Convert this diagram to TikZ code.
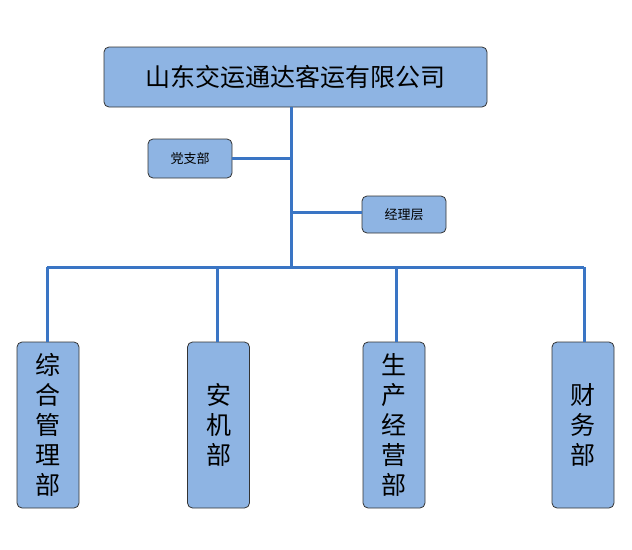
\documentclass[tikz,border=0pt]{standalone}
\usepackage{fontspec}
\newfontfamily\cjk{Noto Sans CJK SC}
\begin{document}
\begin{tikzpicture}[x=1pt,y=-1pt,
 box/.style={draw=black!80,fill={rgb,255:red,142;green,180;blue,227},rounded corners=5pt,line width=0.8pt,inner sep=0pt,font=\cjk},
 ln/.style={draw={rgb,255:red,58;green,117;blue,196},line width=3pt}]
\useasboundingbox (0,0) rectangle (632,549);
\node[box,minimum width=383,minimum height=60,font=\cjk\fontsize{25}{28}\selectfont] (top) at (295.5,77) {山东交运通达客运有限公司};
\node[box,minimum width=84,minimum height=39,font=\cjk\fontsize{13}{15}\selectfont] (dz) at (190,158.5) {党支部};
\node[box,minimum width=84,minimum height=37,font=\cjk\fontsize{13}{15}\selectfont] (jl) at (404,214.5) {经理层};
\tikzset{vb/.style={box,minimum width=62,minimum height=166,align=center,font=\cjk\fontsize{25}{30}\selectfont}}
\node[vb] (b1) at (48,425) {综\\合\\管\\理\\部};
\node[vb] (b2) at (218.5,425) {安\\机\\部};
\node[vb] (b3) at (394,425) {生\\产\\经\\营\\部};
\node[vb] (b4) at (583,425) {财\\务\\部};
\coordinate (j1) at (291,158);
\coordinate (j2) at (291,212);
\coordinate (hb) at (291,267);
\coordinate (l) at (47,267);
\coordinate (r) at (584,267);
\draw[ln] (top.south -| hb) -- (hb);
\draw[ln] (dz.east |- j1) -- (j1);
\draw[ln] (j2) -- (jl.west |- j2);
\draw[ln] (l) -- (r);
\draw[ln] (l) -- (l |- b1.north);
\draw[ln] (217,267) -- (217,342);
\draw[ln] (396,267) -- (396,342);
\draw[ln] (r) -- (r |- b4.north);
\end{tikzpicture}
\end{document}
